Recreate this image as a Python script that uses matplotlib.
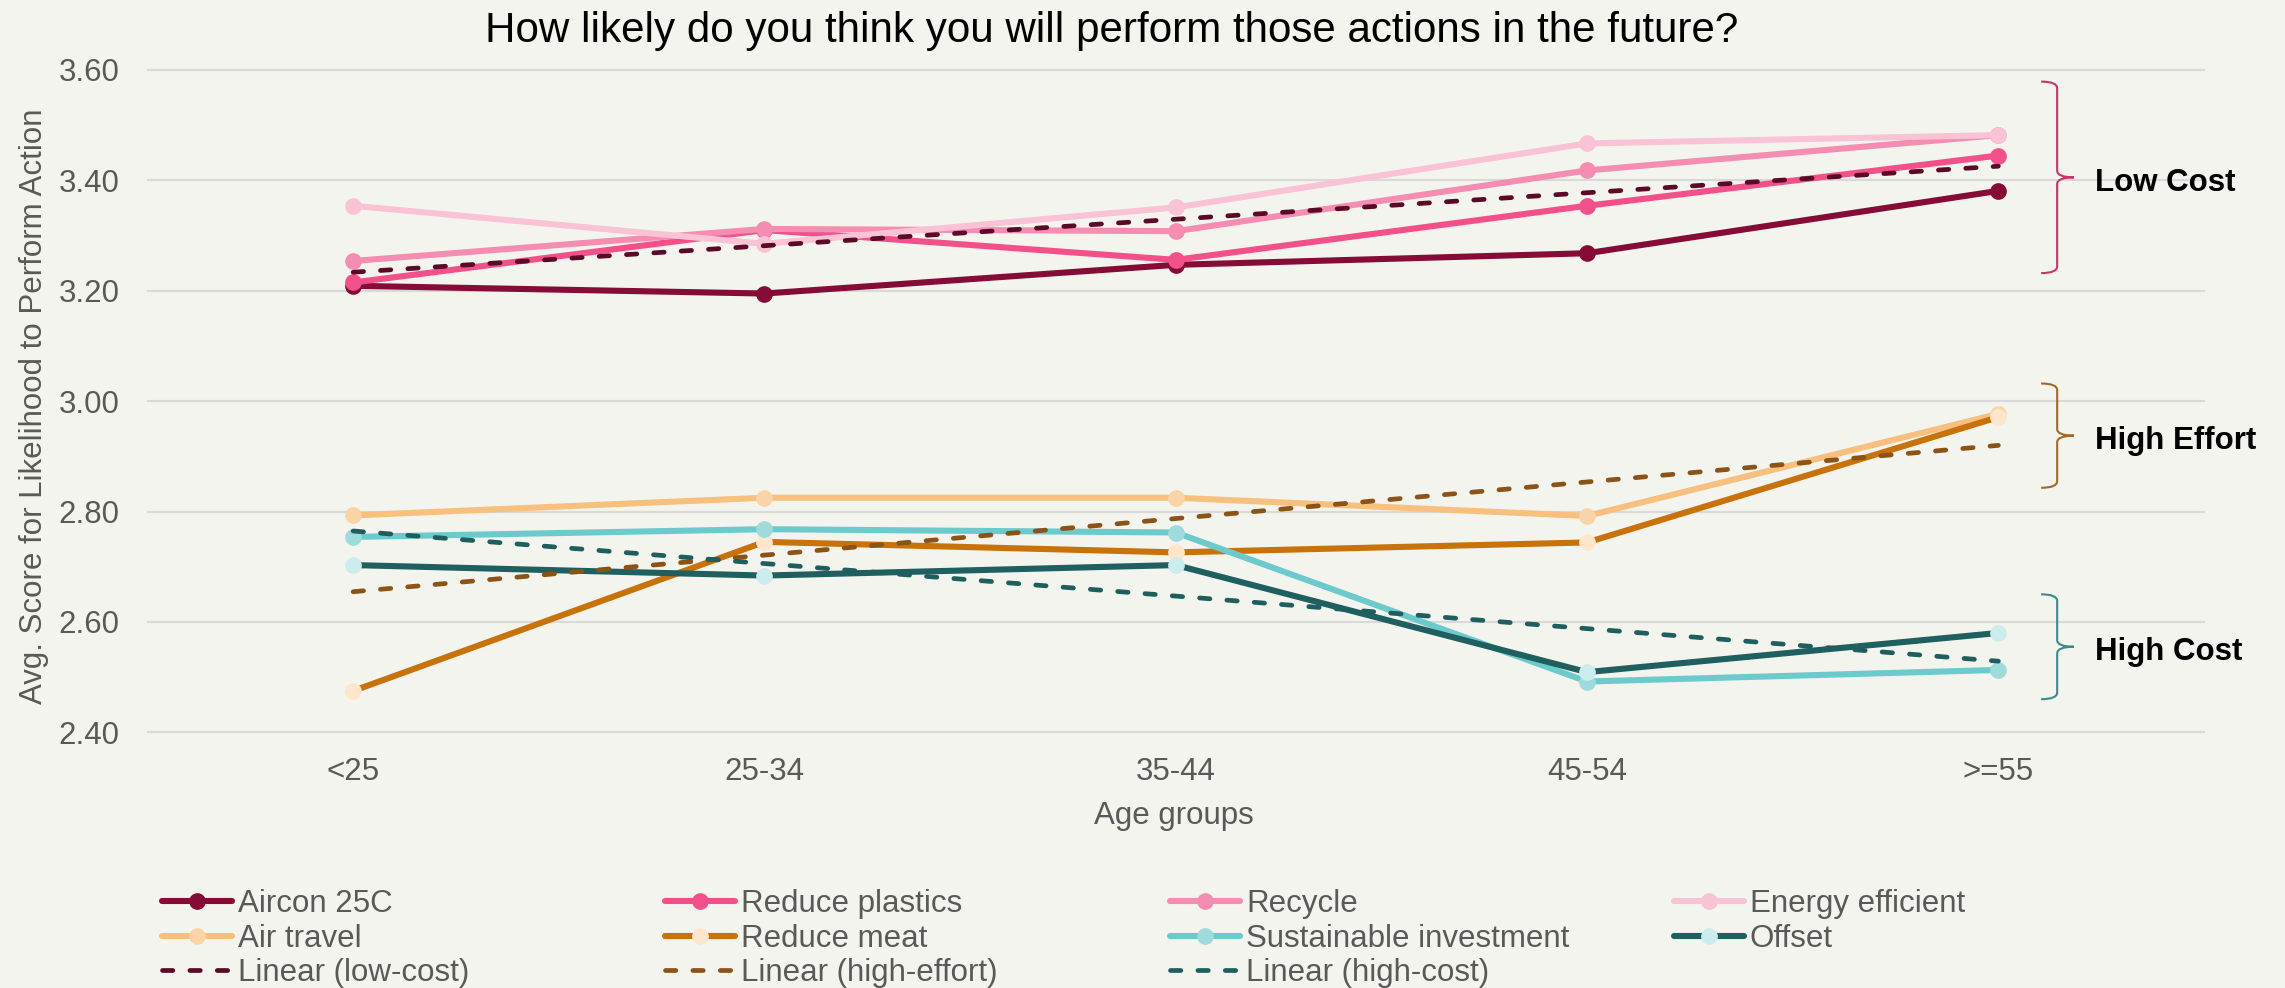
import numpy as np
import matplotlib
matplotlib.use("Agg")
import matplotlib.pyplot as plt
from matplotlib.path import Path
from matplotlib.patches import PathPatch

plt.rcParams['font.family'] = ['Liberation Sans', 'DejaVu Sans']

# ---- data -------------------------------------------------------------
ages = ['<25', '25-34', '35-44', '45-54', '>=55']

aircon = [3.209, 3.195, 3.247, 3.268, 3.381]
reduce_plastics = [3.215, 3.310, 3.256, 3.354, 3.445]
recycle = [3.254, 3.312, 3.308, 3.418, 3.482]
energy_efficient = [3.354, 3.285, 3.351, 3.467, 3.482]

air_travel = [2.793, 2.825, 2.825, 2.792, 2.977]
reduce_meat = [2.475, 2.745, 2.726, 2.744, 2.971]

sustainable_investment = [2.754, 2.768, 2.762, 2.492, 2.513]
offset = [2.703, 2.684, 2.703, 2.509, 2.580]

y_ticks = [2.40, 2.60, 2.80, 3.00, 3.20, 3.40, 3.60]

# ---- styling ----------------------------------------------------------
W, H = 2285, 988
BG = '#F4F4EE'
TXT = '#595959'
FS = 22.5

series = [
    # label, values, line colour, marker colour
    ('Aircon 25C', aircon, '#850C37', '#850C37'),
    ('Reduce plastics', reduce_plastics, '#F2508A', '#F2508A'),
    ('Recycle', recycle, '#F58DB2', '#F58DB2'),
    ('Energy efficient', energy_efficient, '#F9C2D5', '#F9C2D5'),
    ('Air travel', air_travel, '#F7C07E', '#FAD4A6'),
    ('Reduce meat', reduce_meat, '#C8720C', '#FDE6CC'),
    ('Sustainable investment', sustainable_investment, '#6CCACC', '#9FDADC'),
    ('Offset', offset, '#1F5F5F', '#CDECEE'),
]

groups = [
    # trend label, member series, trend colour, bracket colour, bracket name, bracket span
    ('Linear (low-cost)', [aircon, reduce_plastics, recycle, energy_efficient],
     '#5A0A28', '#C8336A', 'Low Cost', (3.232, 3.579)),
    ('Linear (high-effort)', [air_travel, reduce_meat],
     '#8B5315', '#A0692A', 'High Effort', (2.843, 3.032)),
    ('Linear (high-cost)', [sustainable_investment, offset],
     '#1E5E5E', '#3A8C8C', 'High Cost', (2.460, 2.650)),
]

fig = plt.figure(figsize=(W / 100, H / 100), dpi=100, facecolor=BG)
left, right, top, bottom = 147.5, 2204, 70, 732.3
ax = fig.add_axes([left / W, 1 - bottom / H, (right - left) / W, (bottom - top) / H])
ax.set_facecolor(BG)
for s in ax.spines.values():
    s.set_visible(False)

x = np.arange(len(ages))
handles = {}
for label, vals, lc, mc in series:
    ln, = ax.plot(x, vals, color=lc, lw=4.4, marker='o', markersize=11,
                  markerfacecolor=mc, markeredgecolor=mc, label=label,
                  solid_capstyle='round', solid_joinstyle='round', zorder=3)
    handles[label] = ln

for tlabel, members, tc, bc, bname, (b0, b1) in groups:
    means = np.mean(np.array(members), axis=0)
    k, b = np.polyfit(x, means, 1)
    ln, = ax.plot(x, k * x + b, color=tc, lw=3.4, linestyle=(0, (2.2, 3.6)),
                  dash_capstyle='round', label=tlabel, zorder=4)
    handles[tlabel] = ln

    # right-hand curly bracket for the group
    xl, xm, xt = 4.104, 4.143, 4.184
    ymid = (b0 + b1) / 2
    dy = 0.012
    verts = [(xl, b1), (xm, b1), (xm, b1 - dy),
             (xm, ymid + dy),
             (xm, ymid), (xt, ymid),
             (xm, ymid), (xm, ymid - dy),
             (xm, b0 + dy),
             (xm, b0), (xl, b0)]
    codes = [Path.MOVETO, Path.CURVE3, Path.CURVE3,
             Path.LINETO,
             Path.CURVE3, Path.CURVE3,
             Path.CURVE3, Path.CURVE3,
             Path.LINETO,
             Path.CURVE3, Path.CURVE3]
    ax.add_patch(PathPatch(Path(verts, codes), facecolor='none', edgecolor=bc,
                           lw=1.5, clip_on=False, zorder=5))
    ax.text(4.235, ymid - 0.010, bname, fontsize=FS, fontweight='bold',
            color='black', va='center', ha='left', clip_on=False)

ax.set_xlim(-0.5, 4.5)
ax.set_ylim(2.4, 3.6)
ax.set_xticks(x)
ax.set_xticklabels(ages)
ax.set_yticks(y_ticks)
ax.set_yticklabels([f'{v:.2f}' for v in y_ticks])
ax.tick_params(axis='both', length=0, labelsize=FS, labelcolor=TXT)
ax.tick_params(axis='x', pad=18)
ax.tick_params(axis='y', pad=20)
ax.grid(axis='y', color='#D9D9D9', lw=1.5)
ax.grid(axis='x', visible=False)
ax.set_axisbelow(True)
for gl in ax.get_ygridlines():
    gl.set_clip_on(False)

fig.text(1112 / W, 1 - 41.7 / H,
         'How likely do you think you will perform those actions in the future?',
         fontsize=30.3, color='black', ha='center', va='baseline')
fig.text(34 / W, 1 - 406 / H, 'Avg. Score for Likelihood to Perform Action',
         fontsize=FS, color=TXT, rotation=90, ha='center', va='center')
fig.text(1174 / W, 1 - 816 / H, 'Age groups', fontsize=FS, color=TXT,
         ha='center', va='center')

# legend laid out as four evenly spaced columns
columns = [
    ['Aircon 25C', 'Air travel', 'Linear (low-cost)'],
    ['Reduce plastics', 'Reduce meat', 'Linear (high-effort)'],
    ['Recycle', 'Sustainable investment', 'Linear (high-cost)'],
    ['Energy efficient', 'Offset'],
]
col_x = [162, 665, 1170, 1674]
for cx, labels in zip(col_x, columns):
    fig.legend([handles[l] for l in labels], labels, loc='upper left',
               bbox_to_anchor=(cx / W, 1 - 889 / H), frameon=False,
               borderpad=0, borderaxespad=0, handlelength=2.24,
               handletextpad=0.19, labelspacing=0.15, fontsize=FS,
               labelcolor=TXT, numpoints=1)

fig.savefig('out.png', dpi=100, facecolor=BG)
